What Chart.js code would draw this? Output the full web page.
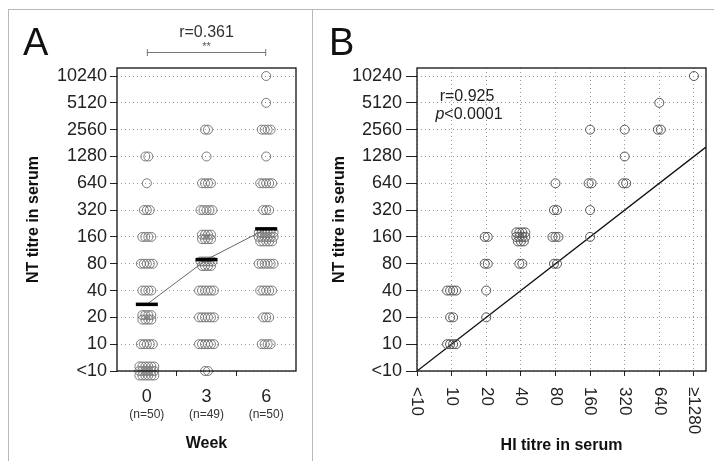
<!DOCTYPE html>
<html>
<head>
<meta charset="utf-8">
<script src="https://cdn.jsdelivr.net/npm/chart.js@4.4.0/dist/chart.umd.min.js"></script>
<style>
  body { margin: 0; background: #fff; }
  #wrap { position: relative; width: 714px; height: 461px; overflow: hidden; background: #fff; }
  #frame { position: absolute; left: 8px; top: 9px; width: 740px; height: 480px; border: 1px solid #b8b8b8; }
  #divider { position: absolute; left: 312px; top: 9px; width: 1px; height: 470px; background: #b8b8b8; }
  #chartA { position: absolute; left: 0; top: 0; }
  #chartB { position: absolute; left: 313px; top: 0; }
</style>
</head>
<body>
<div id="wrap">
  <div id="frame"></div>
  <div id="divider"></div>
  <canvas id="chartA" width="312" height="461"></canvas>
  <canvas id="chartB" width="401" height="461"></canvas>
</div>
<script>
// NT titre levels (<10 plotted at 5)
const titreLevels = [5, 10, 20, 40, 80, 160, 320, 640, 1280, 2560, 5120, 10240];
const levelLabels = ['<10', '10', '20', '40', '80', '160', '320', '640', '1280', '2560', '5120', '10240'];

// Panel A: number of sera at each level, same order as titreLevels
const weeks = [0, 3, 6];
const weekN = [50, 49, 50];
const week0Counts = [18, 5, 8, 4, 5, 4, 3, 1, 2, 0, 0, 0];
const week3Counts = [2, 6, 6, 6, 9, 8, 5, 4, 1, 2, 0, 0];
const week6Counts = [0, 4, 3, 5, 6, 17, 3, 5, 1, 4, 1, 1];
const medianTitres = [28, 89, 197];

// Panel B: HI vs NT pairs and how many sera share each pair
const hiTicks = [5, 10, 20, 40, 80, 160, 320, 640, 1280];
const hiLabels = ['<10', '10', '20', '40', '80', '160', '320', '640', '\u22651280'];
const hiTitres = [1280, 640, 640, 160, 320, 320, 80, 160, 320, 80, 160, 20, 40, 80, 160, 20, 40, 80, 10, 20, 10, 10, 20];
const ntTitres = [10240, 5120, 2560, 2560, 2560, 1280, 640, 640, 640, 320, 320, 160, 160, 160, 160, 80, 80, 80, 40, 40, 20, 10, 20];
const pairCounts = [1, 1, 2, 1, 1, 1, 1, 2, 2, 2, 1, 2, 11, 3, 1, 2, 2, 2, 4, 1, 2, 4, 1];

const ntAxisMax = 12600;
const hiAxisMax = 1630;

const fontFamily = '"Liberation Sans", Arial, Helvetica, sans-serif';
const tickFont = { family: fontFamily, size: 18 };
const titleFont = { family: fontFamily, size: 16, weight: 'bold' };

// pixel offsets so that overlapping circles show as a small cluster
function clusterOffsets(n, perRow) {
    const rows = Math.ceil(n / perRow);
    const cols = Math.ceil(n / rows);
    const out = [];
    for (let i = 0; i < n; i++) {
        const r = Math.floor(i / cols);
        const c = i % cols;
        const inRow = Math.min(cols, n - r * cols);
        out.push([(c - (inRow - 1) / 2) * 3, (r - (rows - 1) / 2) * 4.5]);
    }
    return out;
}

function weekPoints() {
    const pts = [];
    [week0Counts, week3Counts, week6Counts].forEach((counts, w) => {
        counts.forEach((n, li) => {
            clusterOffsets(n, 6).forEach(([dx, dy]) => {
                pts.push({ x: weeks[w] + dx / 20, y: titreLevels[li] * Math.pow(2, -dy / 26.7) });
            });
        });
    });
    return pts;
}

function pairPoints() {
    const pts = [];
    hiTitres.forEach((hi, i) => {
        clusterOffsets(pairCounts[i], 4).forEach(([dx, dy]) => {
            pts.push({ x: hi * Math.pow(2, dx / 34.6), y: ntTitres[i] * Math.pow(2, -dy / 26.7) });
        });
    });
    return pts;
}

function titreAxis(width, tickLen, pad) {
    return {
        type: 'logarithmic',
        min: 5,
        max: ntAxisMax,
        afterBuildTicks: axis => { axis.ticks = titreLevels.map(v => ({ value: v })); },
        afterFit: axis => { axis.width = width; },
        ticks: {
            autoSkip: false,
            padding: pad,
            color: '#222',
            font: tickFont,
            callback: v => levelLabels[titreLevels.indexOf(v)] || ''
        },
        grid: { color: '#9a9a9a', tickColor: '#222', tickLength: tickLen, lineWidth: 1 },
        border: { display: false, dash: [1, 3] },
        title: { display: true, text: 'NT titre in serum', color: '#111', font: titleFont, padding: { top: 4, bottom: 4 } }
    };
}

// black box round the plot area
const frameBox = {
    id: 'frameBox',
    afterDatasetsDraw(chart) {
        const { ctx, chartArea: a } = chart;
        ctx.save();
        ctx.strokeStyle = '#111';
        ctx.lineWidth = 1.3;
        ctx.strokeRect(a.left, a.top, a.right - a.left, a.bottom - a.top);
        ctx.restore();
    }
};

// Panel A texts
const panelAText = {
    id: 'panelAText',
    afterDraw(chart) {
        const { ctx } = chart;
        const xs = chart.scales.x;
        const x0 = xs.getPixelForValue(weeks[0]);
        const x2 = xs.getPixelForValue(weeks[2]);
        ctx.save();
        ctx.fillStyle = '#111';
        ctx.font = '38px ' + fontFamily;
        ctx.textAlign = 'left';
        ctx.textBaseline = 'alphabetic';
        ctx.fillText('A', 23, 55);

        ctx.font = '16px ' + fontFamily;
        ctx.textAlign = 'center';
        ctx.textBaseline = 'middle';
        ctx.fillStyle = '#333';
        ctx.fillText('r=0.361', (x0 + x2) / 2, 33);
        ctx.font = '11px ' + fontFamily;
        ctx.fillStyle = '#555';
        ctx.fillText('**', (x0 + x2) / 2, 47);

        ctx.strokeStyle = '#777';
        ctx.lineWidth = 1;
        ctx.beginPath();
        ctx.moveTo(x0, 52.5); ctx.lineTo(x2, 52.5);
        ctx.moveTo(x0 + 0.5, 49); ctx.lineTo(x0 + 0.5, 56);
        ctx.moveTo(x2 - 0.5, 49); ctx.lineTo(x2 - 0.5, 56);
        ctx.stroke();

        ctx.fillStyle = '#333';
        ctx.font = '12px ' + fontFamily;
        weeks.forEach((w, i) => {
            ctx.fillText('(n=' + weekN[i] + ')', xs.getPixelForValue(w), 415);
        });
        ctx.restore();
    }
};

// Panel B texts and rotated HI labels
const panelBText = {
    id: 'panelBText',
    afterDraw(chart) {
        const { ctx } = chart;
        const xs = chart.scales.x;
        ctx.save();
        ctx.fillStyle = '#111';
        ctx.font = '38px ' + fontFamily;
        ctx.textAlign = 'left';
        ctx.textBaseline = 'alphabetic';
        ctx.fillText('B', 16, 55);

        ctx.fillStyle = '#222';
        ctx.textBaseline = 'middle';
        ctx.font = '16px ' + fontFamily;
        ctx.textAlign = 'center';
        ctx.fillText('r=0.925', 154, 97);
        const italic = 'italic 16px ' + fontFamily;
        const normal = '16px ' + fontFamily;
        ctx.font = italic;
        const wp = ctx.measureText('p').width;
        ctx.font = normal;
        const wr = ctx.measureText('<0.0001').width;
        const start = 156 - (wp + wr) / 2;
        ctx.textAlign = 'left';
        ctx.font = italic;
        ctx.fillText('p', start, 115);
        ctx.font = normal;
        ctx.fillText('<0.0001', start + wp, 115);

        ctx.font = '17px ' + fontFamily;
        ctx.fillStyle = '#222';
        hiTicks.forEach((v, i) => {
            ctx.save();
            ctx.translate(xs.getPixelForValue(v), 387);
            ctx.rotate(Math.PI / 2);
            ctx.textAlign = 'left';
            ctx.textBaseline = 'middle';
            ctx.fillText(hiLabels[i], 0, 0);
            ctx.restore();
        });
        ctx.restore();
    }
};

const pointStyleA = {
    pointRadius: 4.5,
    pointBorderWidth: 1,
    pointBorderColor: '#7a7a7a',
    pointBackgroundColor: 'rgba(255,255,255,0)'
};

new Chart(document.getElementById('chartA'), {
    type: 'scatter',
    data: {
        datasets: [
            {
                label: 'Geometric mean',
                data: weeks.map((w, i) => ({ x: w, y: medianTitres[i] })),
                showLine: true,
                borderColor: '#666',
                borderWidth: 1,
                pointStyle: 'line',
                pointRadius: 11,
                pointBorderWidth: 3.5,
                pointBorderColor: '#000',
                clip: false
            },
            Object.assign({ label: 'Sera', data: weekPoints(), clip: false }, pointStyleA)
        ]
    },
    options: {
        responsive: false,
        animation: false,
        layout: { padding: { left: 20, right: 16, top: 68, bottom: 0 } },
        plugins: { legend: { display: false }, tooltip: { enabled: false } },
        scales: {
            x: {
                type: 'linear',
                min: weeks[0] - 1.5,
                max: weeks[2] + 1.5,
                afterBuildTicks: axis => {
                    const t = [weeks[0] - 1.5];
                    weeks.forEach(w => { t.push(w, w + 1.5); });
                    axis.ticks = t.map(v => ({ value: v }));
                },
                afterFit: axis => { axis.height = 90; },
                ticks: {
                    autoSkip: false,
                    maxRotation: 0,
                    padding: 10,
                    color: '#222',
                    font: tickFont,
                    callback: v => weeks.includes(v) ? String(v) : ''
                },
                grid: {
                    drawOnChartArea: false,
                    tickLength: 5,
                    color: 'rgba(0,0,0,0)',
                    tickColor: ctx => (ctx.tick && !weeks.includes(ctx.tick.value) &&
                        ctx.tick.value > weeks[0] - 1 && ctx.tick.value < weeks[2] + 1) ? '#222' : 'rgba(0,0,0,0)'
                },
                border: { display: false },
                title: { display: true, text: 'Week', color: '#111', font: titleFont, padding: { top: 0, bottom: 8 } }
            },
            y: titreAxis(97, 7, 3)
        }
    },
    plugins: [frameBox, panelAText]
});

new Chart(document.getElementById('chartB'), {
    type: 'scatter',
    data: {
        datasets: [
            {
                label: 'Sera',
                data: pairPoints(),
                pointRadius: 4.5,
                pointBorderWidth: 1,
                pointBorderColor: '#555',
                pointBackgroundColor: 'rgba(255,255,255,0)',
                clip: false
            },
            {
                label: 'Identity',
                data: [{ x: 5, y: 5 }, { x: hiAxisMax, y: hiAxisMax }],
                showLine: true,
                borderColor: '#111',
                borderWidth: 1.3,
                pointRadius: 0
            }
        ]
    },
    options: {
        responsive: false,
        animation: false,
        layout: { padding: { left: 13, right: 8, top: 68, bottom: 0 } },
        plugins: { legend: { display: false }, tooltip: { enabled: false } },
        scales: {
            x: {
                type: 'logarithmic',
                min: 5,
                max: hiAxisMax,
                afterBuildTicks: axis => { axis.ticks = hiTicks.map(v => ({ value: v })); },
                afterFit: axis => { axis.height = 90; },
                ticks: { display: false },
                grid: { color: '#9a9a9a', tickColor: '#222', tickLength: 5, lineWidth: 1 },
                border: { display: false, dash: [1, 3] },
                title: { display: true, text: 'HI titre in serum', color: '#111', font: titleFont, padding: { top: 0, bottom: 6 } }
            },
            y: titreAxis(91, 11, 4)
        }
    },
    plugins: [frameBox, panelBText]
});
</script>
</body>
</html>
